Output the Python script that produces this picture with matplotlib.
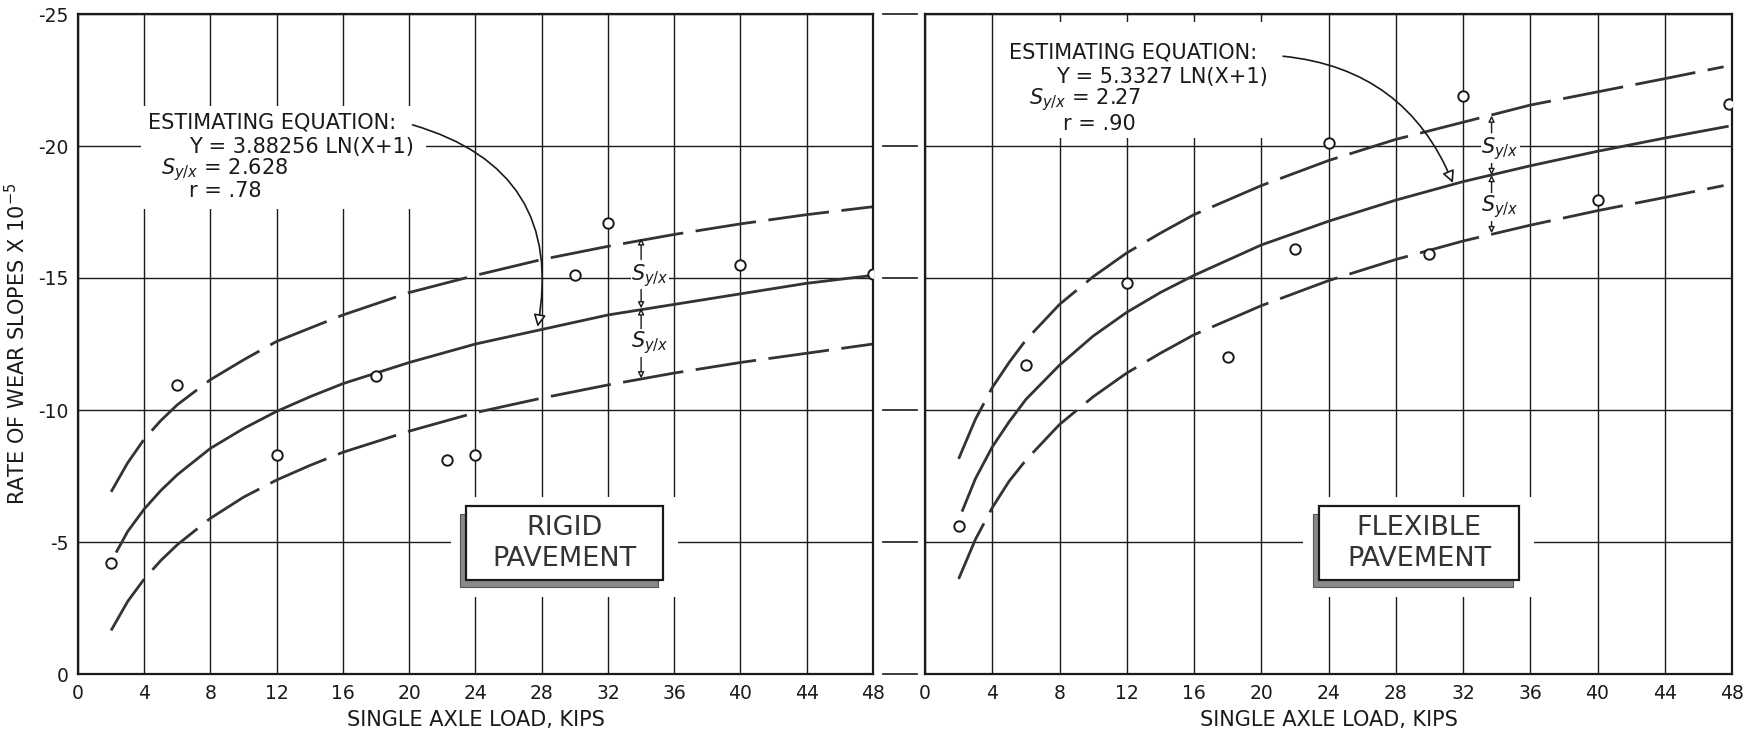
import matplotlib
matplotlib.use("Agg")
import matplotlib.pyplot as plt
from matplotlib.patches import Rectangle
import matplotlib.transforms as mtransforms

plt.rcParams['font.family'] = ['DejaVu Sans']

# ---------------- data ----------------
x_ticks = [0, 4, 8, 12, 16, 20, 24, 28, 32, 36, 40, 44, 48]
x_tick_labels = ["0", "4", "8", "12", "16", "20", "24", "28", "32", "36", "40", "44", "48"]
y_ticks = [0, -5, -10, -15, -20, -25]
y_tick_labels = ["0", "-5", "-10", "-15", "-20", "-25"]

# observed points
rigid_x = [2, 6, 12, 18, 22.3, 24, 30, 32, 40, 48]
rigid_y = [-4.2, -10.95, -8.3, -11.3, -8.1, -8.3, -15.1, -17.1, -15.5, -15.15]
flex_x = [2, 6, 12, 18, 22, 24, 30, 32, 40, 47.8]
flex_y = [-5.6, -11.7, -14.8, -12.0, -16.1, -20.1, -15.9, -21.9, -17.95, -21.6]

# curves
band_x = [2, 3, 4, 5, 6, 8, 10, 12, 14, 16, 20, 24, 28, 32, 36, 40, 44, 48]
rigid_mean_x = [2.3, 3, 4, 5, 6, 8, 10, 12, 14, 16, 20, 24, 28, 32, 36, 40, 44, 48]
rigid_mean = [-4.6, -5.4, -6.25, -6.95, -7.55, -8.55, -9.3, -9.95, -10.5, -11.0,
              -11.8, -12.5, -13.05, -13.6, -14.0, -14.4, -14.8, -15.1]
rigid_upper = [-6.9, -8.0, -8.9, -9.6, -10.2, -11.15, -11.9, -12.6, -13.1, -13.6,
               -14.45, -15.1, -15.7, -16.2, -16.65, -17.05, -17.4, -17.7]
rigid_lower = [-1.65, -2.75, -3.6, -4.3, -4.9, -5.9, -6.7, -7.35, -7.9, -8.4,
               -9.2, -9.9, -10.45, -10.95, -11.4, -11.8, -12.15, -12.5]

flex_mean_x = [2.2, 3, 4, 5, 6, 8, 10, 12, 14, 16, 20, 24, 28, 32, 36, 40, 44, 47.8]
flex_mean = [-6.15, -7.4, -8.6, -9.55, -10.4, -11.7, -12.8, -13.7, -14.45, -15.1,
             -16.25, -17.15, -17.95, -18.65, -19.25, -19.8, -20.3, -20.75]
flex_band_x = [2, 3, 4, 5, 6, 8, 10, 12, 14, 16, 20, 24, 28, 32, 36, 40, 44, 47.5]
flex_upper = [-8.15, -9.65, -10.85, -11.8, -12.65, -14.0, -15.05, -15.95, -16.7, -17.4,
              -18.5, -19.45, -20.25, -20.9, -21.55, -22.05, -22.55, -23.0]
flex_lower = [-3.6, -5.1, -6.3, -7.3, -8.1, -9.45, -10.5, -11.4, -12.15, -12.85,
              -13.95, -14.9, -15.7, -16.4, -17.0, -17.55, -18.05, -18.5]

rigid_eq = ["ESTIMATING EQUATION:", "Y = 3.88256 LN(X+1)", r"$S_{y/x}$ = 2.628", "r = .78"]
flex_eq = ["ESTIMATING EQUATION:", "Y = 5.3327 LN(X+1)", r"$S_{y/x}$ = 2.27", "r = .90"]

# ---------------- figure ----------------
W, H = 1745, 733
fig = plt.figure(figsize=(W / 100, H / 100), dpi=100)
axL = fig.add_axes([78 / W, 59 / H, 795 / W, 660 / H])
axR = fig.add_axes([925 / W, 59 / H, 807 / W, 660 / H])

INK = "#1a1a1a"
CURVE = "#333333"

for ax in (axL, axR):
    ax.set_xlim(0, 48)
    ax.set_ylim(0, -25)
    ax.set_xticks(x_ticks)
    ax.set_xticklabels(x_tick_labels, fontsize=13.5)
    ax.set_yticks(y_ticks)
    ax.set_yticklabels(y_tick_labels, fontsize=13.5)
    ax.tick_params(length=0, pad=7, colors=INK)
    ax.set_axisbelow(True)
    ax.grid(True, color=INK, lw=1.0)
    for s in ax.spines.values():
        s.set_linewidth(1.6)
        s.set_color(INK)
    ax.set_xlabel("SINGLE AXLE LOAD, KIPS", fontsize=15, color=INK)
    ax.xaxis.set_label_coords(0.5, -0.055)

axR.tick_params(labelleft=False)
axL.set_ylabel(r"RATE OF WEAR SLOPES X 10$^{-5}$", fontsize=15, color=INK)
axL.yaxis.set_label_coords(-0.062, 0.5)

# grid lines continuing through the gap between panels
tr = mtransforms.blended_transform_factory(fig.transFigure, axL.transData)
for yv in y_ticks:
    axL.plot([883 / W, 917 / W], [yv, yv], transform=tr, color=INK, lw=1.2,
             clip_on=False, zorder=5)

dash = dict(dashes=(22, 4.5))


def draw_panel(ax, px, py, mx, my, bx, up, lo, eq, eq_pos, eq_rect, arrow, sy_x, sy_vals,
               box_label):
    # white patch behind the equation text
    ax.add_patch(Rectangle((eq_rect[0], eq_rect[1]), eq_rect[2] - eq_rect[0],
                           eq_rect[3] - eq_rect[1], fc="white", ec="none", zorder=1))
    # white patch around label box
    ax.add_patch(Rectangle((22.5, -6.7), 36.2 - 22.5, 3.8, fc="white", ec="none", zorder=1))

    ax.plot(mx, my, color=CURVE, lw=2.0, zorder=2, solid_capstyle="butt")
    ax.plot(bx, up, color=CURVE, lw=2.0, zorder=2, **dash)
    ax.plot(bx, lo, color=CURVE, lw=2.0, zorder=2, **dash)
    ax.plot(px, py, "o", ls="none", mfc="white", mec=INK, ms=7.5, mew=1.4, zorder=4)

    for (tx, ty), t in zip(eq_pos, eq):
        ax.text(tx, ty, t, fontsize=15, color=INK, ha="left", va="center", zorder=5)

    ax.annotate("", xy=arrow[1], xytext=arrow[0], zorder=5,
                arrowprops=dict(arrowstyle="-|>", color=INK, lw=1.2, mutation_scale=18,
                                fc="white", shrinkA=0, shrinkB=0,
                                connectionstyle="arc3,rad=%s" % arrow[2]))

    # S y/x dimension arrows
    u_line, u_from, lab1, d_from, m_line, u2_from, lab2, d2_from, l_line = sy_vals
    ap = dict(arrowstyle="-|>", color=INK, lw=1.0, mutation_scale=9, fc="white",
              shrinkA=0, shrinkB=0)
    ax.annotate("", xy=(sy_x, u_line), xytext=(sy_x, u_from), arrowprops=ap, zorder=5)
    ax.annotate("", xy=(sy_x, m_line), xytext=(sy_x, d_from), arrowprops=ap, zorder=5)
    ax.annotate("", xy=(sy_x, m_line), xytext=(sy_x, u2_from), arrowprops=ap, zorder=5)
    ax.annotate("", xy=(sy_x, l_line), xytext=(sy_x, d2_from), arrowprops=ap, zorder=5)
    ax.text(sy_x - 0.6, lab1, r"$S_{y/x}$", fontsize=15, ha="left", va="center",
            color=INK, zorder=5, bbox=dict(fc="white", ec="none", pad=0.5))
    ax.text(sy_x - 0.6, lab2, r"$S_{y/x}$", fontsize=15, ha="left", va="center",
            color=INK, zorder=5, bbox=dict(fc="white", ec="none", pad=0.5))

    # label box with shadow
    ax.add_patch(Rectangle((23.05, -6.05), 35.0 - 23.05, 2.75, fc="#8a8a8a", ec="#555555",
                           lw=0.8, zorder=5))
    ax.add_patch(Rectangle((23.45, -6.35), 35.35 - 23.45, 2.8, fc="white", ec=INK,
                           lw=1.6, zorder=6))
    ax.text(29.4, -4.95, box_label, fontsize=19.5, ha="center", va="center",
            color="#333333", linespacing=1.25, zorder=7)


draw_panel(axL, rigid_x, rigid_y, rigid_mean_x, rigid_mean, band_x, rigid_upper, rigid_lower,
           rigid_eq,
           [(4.2, -20.9), (6.7, -19.95), (5.0, -19.1), (6.7, -18.3)],
           (3.8, -21.5, 21.0, -17.6),
           ((20.2, -20.8), (27.75, -13.15), -0.45),
           34.0,
           (-16.5, -15.7, -15.1, -14.65, -13.85, -13.05, -12.55, -12.0, -11.2),
           "RIGID\nPAVEMENT")

draw_panel(axR, flex_x, flex_y, flex_mean_x, flex_mean, flex_band_x, flex_upper, flex_lower,
           flex_eq,
           [(5.0, -23.55), (7.8, -22.6), (6.2, -21.75), (8.2, -20.85)],
           (4.6, -24.7, 21.0, -20.3),
           ((21.3, -23.4), (31.4, -18.6), -0.3),
           33.7,
           (-21.15, -20.5, -19.9, -19.5, -18.9, -17.95, -17.7, -17.2, -16.7),
           "FLEXIBLE\nPAVEMENT")

fig.savefig("out.png", dpi=100, facecolor="white")
